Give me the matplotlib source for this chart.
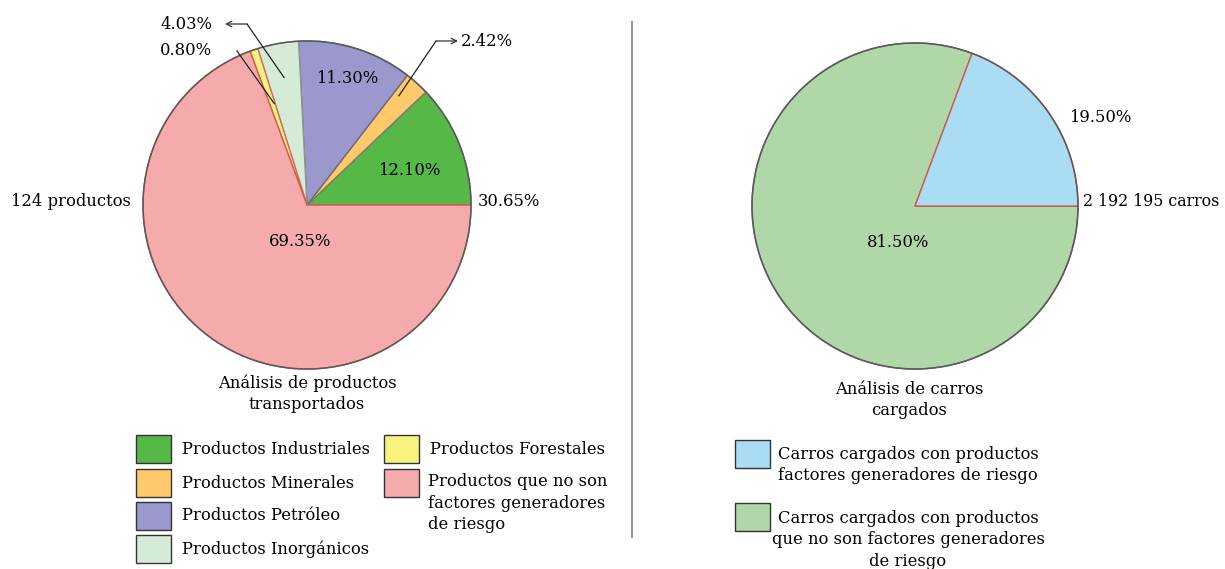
import numpy as np
import matplotlib
matplotlib.use("Agg")
import matplotlib.pyplot as plt
from matplotlib.patches import Circle, Rectangle

# ---------------- data ----------------
left_labels = ["Productos Industriales", "Productos Minerales", "Productos Petróleo",
               "Productos Inorgánicos", "Productos Forestales",
               "Productos que no son\nfactores generadores\nde riesgo"]
left_values = [12.10, 2.42, 11.30, 4.03, 0.80, 69.35]
left_colors = ["#56b847", "#fdc96a", "#9a98cc", "#d6ebd5", "#f7f17e", "#f5aaac"]
left_total_label = "30.65%"
left_count_label = "124 productos"
left_title = "Análisis de productos\ntransportados"

right_labels = ["Carros cargados con productos\nfactores generadores de riesgo",
                "Carros cargados con productos\nque no son factores generadores\nde riesgo"]
right_values = [19.50, 81.50]
right_colors = ["#aadcf4", "#afd7a8"]
right_count_label = "2 192 195 carros"
right_title = "Análisis de carros\ncargados"

W, H = 1225, 569
plt.rcParams['font.family'] = ['DejaVu Serif']
FS = 11.8
LS = 1.32

fig = plt.figure(figsize=(W / 100, H / 100), dpi=100)
ax = fig.add_axes([0, 0, 1, 1])


def Y(y):
    return H - y


def pt(center, r, ang):
    a = np.deg2rad(ang)
    return (center[0] + r * np.cos(a), center[1] + r * np.sin(a))


def draw_pie(values, colors, center, radius, edgecols):
    wedges, _ = ax.pie(values, colors=colors, startangle=0, counterclock=True,
                       center=center, radius=radius, frame=True,
                       wedgeprops=dict(linewidth=1.0))
    for w, ec in zip(wedges, edgecols):
        w.set_edgecolor(ec)
    ax.add_patch(Circle(center, radius, fill=False, edgecolor="#5a5a5a", lw=1.1, zorder=5))
    return wedges


# ---------------- left pie ----------------
cL = (307, Y(205))
rL = 164
wl = draw_pie(left_values, left_colors, cL, rL,
              ["#6a6a6a", "#8a7a6a", "#6a6a7a", "#8a9a8a", "#d46a5a", "#d9574f"])
wl[-1].set_zorder(3)


def mid(w):
    return (w.theta1 + w.theta2) / 2


# inside labels
ax.text(*pt(cL, rL * 0.66, mid(wl[0]) - 3), f"{left_values[0]:.2f}%", ha="center", va="center", fontsize=FS)
ax.text(*pt(cL, rL * 0.81, mid(wl[2])), f"{left_values[2]:.2f}%", ha="center", va="center", fontsize=FS)
ax.text(300, Y(241), f"{left_values[5]:.2f}%", ha="center", va="center", fontsize=FS)
ax.text(478, Y(201), left_total_label, ha="left", va="center", fontsize=FS)
ax.text(131, Y(201), left_count_label, ha="right", va="center", fontsize=FS)

# 2.42% leader
p0 = pt(cL, rL * 0.87, mid(wl[1]) + 2)
bend = (436, Y(41))
tip = (458, Y(41))
ax.plot([p0[0], bend[0]], [p0[1], bend[1]], color="#222222", lw=0.9, zorder=6)
ax.annotate("", xy=tip, xytext=bend,
            arrowprops=dict(arrowstyle="->", color="#333333", lw=0.9, shrinkA=0, shrinkB=0), zorder=6)
ax.text(461, Y(41), f"{left_values[1]:.2f}%", ha="left", va="center", fontsize=FS)

# 4.03% leader
p0 = pt(cL, rL * 0.79, mid(wl[3]))
bend = (247, Y(24))
tip = (225, Y(24))
ax.plot([p0[0], bend[0]], [p0[1], bend[1]], color="#222222", lw=0.9, zorder=6)
ax.annotate("", xy=tip, xytext=bend,
            arrowprops=dict(arrowstyle="->", color="#333333", lw=0.9, shrinkA=0, shrinkB=0), zorder=6)
ax.text(186, Y(24), f"{left_values[3]:.2f}%", ha="center", va="center", fontsize=FS)

# 0.80% leader
p0 = pt(cL, rL * 0.65, mid(wl[4]) - 1)
ax.plot([p0[0], 237], [p0[1], Y(51)], color="#222222", lw=0.9, zorder=6)
ax.text(186, Y(50), f"{left_values[4]:.2f}%", ha="center", va="center", fontsize=FS)

ax.text(307, Y(394), left_title, ha="center", va="center", fontsize=FS, linespacing=LS)

# ---------------- right pie ----------------
cR = (915, Y(206))
rR = 163
wr = draw_pie(right_values, right_colors, cR, rR, ["#d9574f", "#6a6a6a"])
wr[0].set_zorder(3)
ax.text(1069, Y(117), f"{right_values[0]:.2f}%", ha="left", va="center", fontsize=FS)
ax.text(898, Y(242), f"{right_values[1]:.2f}%", ha="center", va="center", fontsize=FS)
ax.text(1083, Y(201), right_count_label, ha="left", va="center", fontsize=11.4)
ax.text(909, Y(400), right_title, ha="center", va="center", fontsize=FS, linespacing=LS)

# divider
ax.plot([632, 632], [Y(22), Y(537)], color="#999999", lw=1.5)

# ---------------- legends ----------------
bw, bh = 35, 28
left_rows = [(136, 435), (136, 469), (136, 502), (136, 535), (384, 435), (384, 469)]
for (x, y), lab, col in zip(left_rows, left_labels, left_colors):
    ax.add_patch(Rectangle((x, Y(y + bh)), bw, bh, facecolor=col, edgecolor="#333333", lw=1.0))
    if "\n" in lab:
        ax.text(x + 44, Y(503), lab, ha="left", va="center", fontsize=FS, linespacing=LS)
    else:
        ax.text(x + 46, Y(y + bh / 2), lab, ha="left", va="center", fontsize=FS)

right_rows = [(735, 440, 465), (735, 503, 540)]
for (x, y, ty), lab, col in zip(right_rows, right_labels, right_colors):
    ax.add_patch(Rectangle((x, Y(y + bh)), bw, bh, facecolor=col, edgecolor="#333333", lw=1.0))
    ax.text(908, Y(ty), lab, ha="center", va="center", fontsize=FS, linespacing=LS)

ax.set_xlim(0, W)
ax.set_ylim(0, H)
ax.set_aspect("auto")
ax.axis("off")
fig.savefig("out.png", dpi=100, facecolor="white")
